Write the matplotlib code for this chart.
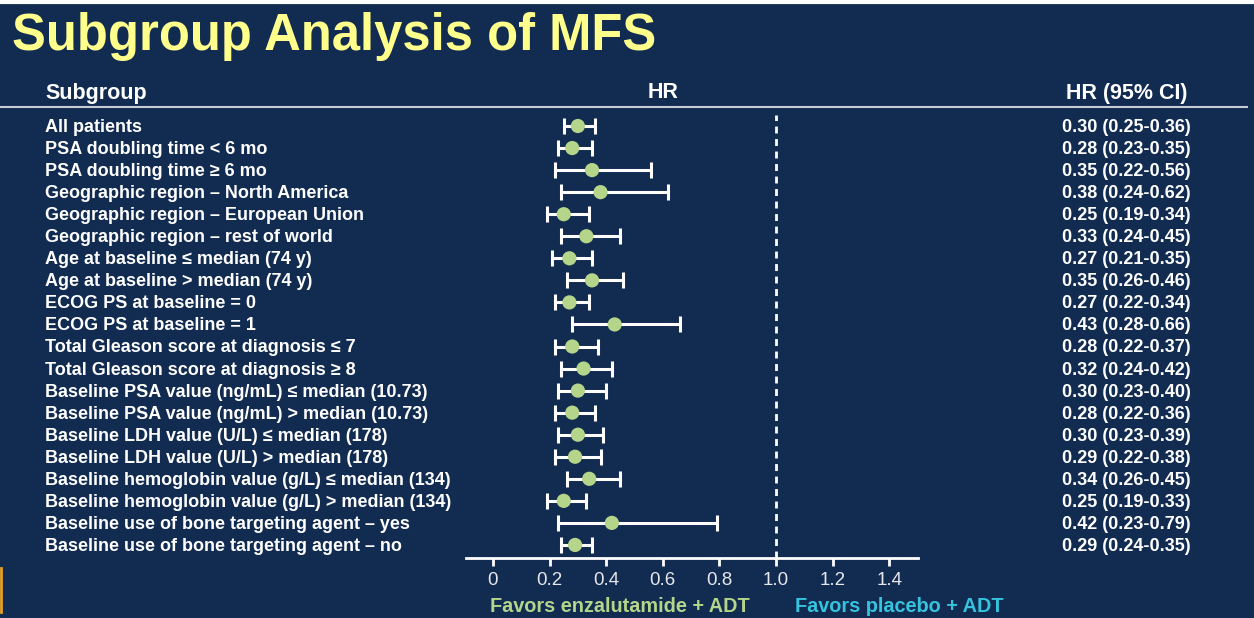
import matplotlib.pyplot as plt
from matplotlib.lines import Line2D

subgroups = [
    "All patients",
    "PSA doubling time < 6 mo",
    "PSA doubling time \u2265 6 mo",
    "Geographic region \u2013 North America",
    "Geographic region \u2013 European Union",
    "Geographic region \u2013 rest of world",
    "Age at baseline \u2264 median (74 y)",
    "Age at baseline > median (74 y)",
    "ECOG PS at baseline = 0",
    "ECOG PS at baseline = 1",
    "Total Gleason score at diagnosis \u2264 7",
    "Total Gleason score at diagnosis \u2265 8",
    "Baseline PSA value (ng/mL) \u2264 median (10.73)",
    "Baseline PSA value (ng/mL) > median (10.73)",
    "Baseline LDH value (U/L) \u2264 median (178)",
    "Baseline LDH value (U/L) > median (178)",
    "Baseline hemoglobin value (g/L) \u2264 median (134)",
    "Baseline hemoglobin value (g/L) > median (134)",
    "Baseline use of bone targeting agent \u2013 yes",
    "Baseline use of bone targeting agent \u2013 no",
]
hr = [0.30, 0.28, 0.35, 0.38, 0.25, 0.33, 0.27, 0.35, 0.27, 0.43,
      0.28, 0.32, 0.30, 0.28, 0.30, 0.29, 0.34, 0.25, 0.42, 0.29]
ci_low = [0.25, 0.23, 0.22, 0.24, 0.19, 0.24, 0.21, 0.26, 0.22, 0.28,
          0.22, 0.24, 0.23, 0.22, 0.23, 0.22, 0.26, 0.19, 0.23, 0.24]
ci_high = [0.36, 0.35, 0.56, 0.62, 0.34, 0.45, 0.35, 0.46, 0.34, 0.66,
           0.37, 0.42, 0.40, 0.36, 0.39, 0.38, 0.45, 0.33, 0.79, 0.35]
xticks = [0, 0.2, 0.4, 0.6, 0.8, 1.0, 1.2, 1.4]
xtick_labels = ["0", "0.2", "0.4", "0.6", "0.8", "1.0", "1.2", "1.4"]

BG = "#122b51"
GREEN = "#b4d58a"
CYAN = "#35c3de"
YELLOW = "#ffff8c"
W, H = 1254, 618

plt.rcParams['font.family'] = ['Liberation Sans', 'DejaVu Sans']

fig = plt.figure(figsize=(W / 100, H / 100), dpi=100, facecolor=BG)

# overlay in pixel coordinates for the text columns
bg = fig.add_axes([0, 0, 1, 1])
bg.set_xlim(0, W)
bg.set_ylim(H, 0)
bg.axis("off")

bg.add_line(Line2D([0, W], [1.5, 1.5], color="white", lw=3))
bg.add_line(Line2D([1, 1], [568, 612], color="#e8a020", lw=2))

bg.text(12, 50, "Subgroup Analysis of MFS", color=YELLOW, fontsize=36.5,
        fontweight="bold", va="baseline", ha="left")

bg.text(45, 93, "Subgroup", color="white", fontsize=15.5, fontweight="bold", va="center")
bg.text(663, 93, "HR", color="white", fontsize=15.5, fontweight="bold", va="center", ha="center")
bg.text(1127, 93, "HR (95% CI)", color="white", fontsize=15.5, fontweight="bold",
        va="center", ha="center")
bg.add_line(Line2D([0, 1247], [107, 107], color="#c8ccd4", lw=1.5))

row0, step = 126, 22.05
for i, name in enumerate(subgroups):
    y = row0 + step * i + 1.5
    bg.text(45, y, name, color="white", fontsize=13, fontweight="bold", va="center")
    bg.text(1062, y, f"{hr[i]:.2f} ({ci_low[i]:.2f}-{ci_high[i]:.2f})", color="white",
            fontsize=13, fontweight="bold", va="center")

bg.text(490, 607, "Favors enzalutamide + ADT", color=GREEN, fontsize=14.3,
        fontweight="bold", va="center")
bg.text(795, 607, "Favors placebo + ADT", color=CYAN, fontsize=14.3,
        fontweight="bold", va="center")

# forest plot axes
x0_px, scale = 493, 283.0
left_px, right_px = 466, 918
top_px, bottom_px = 115, 558
ax = fig.add_axes([left_px / W, 1 - bottom_px / H, (right_px - left_px) / W,
                   (bottom_px - top_px) / H])
ax.set_xlim((left_px - x0_px) / scale, (right_px - x0_px) / scale)
ax.set_ylim((bottom_px - row0) / step, (top_px - row0) / step)
ax.patch.set_alpha(0)
for s in ["top", "left", "right"]:
    ax.spines[s].set_visible(False)
ax.spines["bottom"].set_color("white")
ax.spines["bottom"].set_linewidth(2)
ax.set_yticks([])
ax.set_xticks(xticks)
ax.set_xticklabels(xtick_labels)
ax.tick_params(axis="x", colors="white", length=6, width=2, labelsize=13.5,
               labelcolor="#e6e8ec", pad=4)

rows = list(range(len(subgroups)))
err = [[h - lo for h, lo in zip(hr, ci_low)], [hi - h for h, hi in zip(hr, ci_high)]]
ax.errorbar(hr, rows, xerr=err, fmt="none", ecolor="white", elinewidth=2.2,
            capsize=6, capthick=2.2, zorder=2)
ax.scatter(hr, rows, s=105, color=GREEN, zorder=3, edgecolors="none")
ax.axvline(1.0, color="white", lw=2, ls=(0, (2.5, 2.0)), zorder=1)

fig.savefig("out.png", dpi=100, facecolor=BG)
